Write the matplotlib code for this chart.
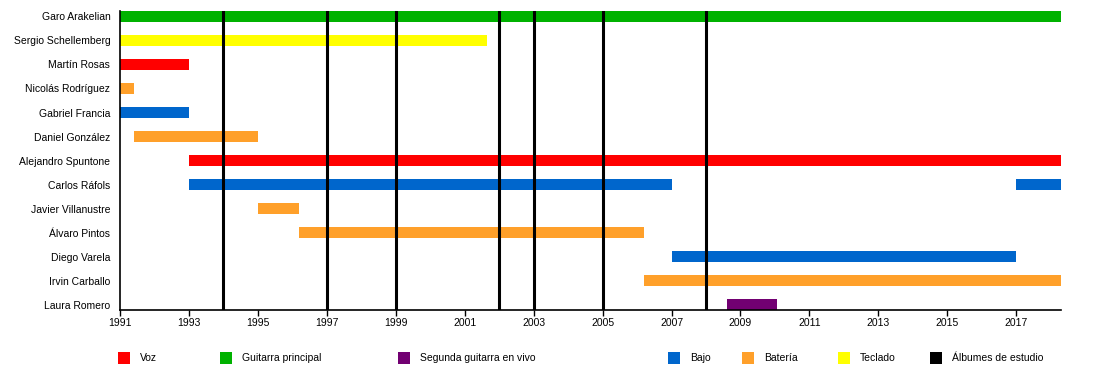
import matplotlib
matplotlib.use("Agg")
import matplotlib.pyplot as plt
from matplotlib.patches import Rectangle

plt.rcParams['font.family'] = ['Liberation Sans', 'DejaVu Sans']

# ---- data ----
members = ["Garo Arakelian", "Sergio Schellemberg", "Martín Rosas", "Nicolás Rodríguez",
           "Gabriel Francia", "Daniel González", "Alejandro Spuntone", "Carlos Ráfols",
           "Javier Villanustre", "Álvaro Pintos", "Diego Varela", "Irvin Carballo",
           "Laura Romero"]
# (member index, start, end, role)
periods = [
    (0, 1991.0, 2018.3, "Guitarra principal"),
    (1, 1991.0, 2001.65, "Teclado"),
    (2, 1991.0, 1993.0, "Voz"),
    (3, 1991.0, 1991.42, "Batería"),
    (4, 1991.0, 1993.0, "Bajo"),
    (5, 1991.4, 1995.0, "Batería"),
    (6, 1993.0, 2018.3, "Voz"),
    (7, 1993.0, 2007.0, "Bajo"),
    (7, 2017.0, 2018.3, "Bajo"),
    (8, 1995.0, 1996.2, "Batería"),
    (9, 1996.2, 2006.2, "Batería"),
    (10, 2007.0, 2017.0, "Bajo"),
    (11, 2006.2, 2018.3, "Batería"),
    (12, 2008.6, 2010.05, "Segunda guitarra en vivo"),
]
albums = [1994.0, 1997.0, 1999.0, 2002.0, 2003.0, 2005.0, 2008.0]
roles = ["Voz", "Guitarra principal", "Segunda guitarra en vivo", "Bajo",
         "Batería", "Teclado", "Álbumes de estudio"]
role_colors = ["#ff0000", "#00b200", "#720072", "#0066cc", "#ffa02a", "#ffff00", "#000000"]
tick_years = list(range(1991, 2018, 2))
x_start, x_end = 1991.0, 2018.3

color_of = dict(zip(roles, role_colors))

# ---- figure ----
W, H = 1100, 370
fig = plt.figure(figsize=(W / 100, H / 100), dpi=100)
ax_left, ax_right, ax_top, ax_bottom = 120, 1061, 10.5, 310
ax = fig.add_axes([ax_left / W, 1 - ax_bottom / H, (ax_right - ax_left) / W,
                   (ax_bottom - ax_top) / H])

n = len(members)
row_px = 24.05
bar_h = 10.7 / row_px
for idx, s, e, role in periods:
    ax.barh(idx, e - s, left=s, height=bar_h, color=color_of[role], linewidth=0, zorder=2)

for a in albums:
    ax.axvline(a, color="black", linewidth=2.2, zorder=3)

ax.set_xlim(x_start, x_end)
ax.set_ylim(n - 1 + 5.2 / row_px, -5.9 / row_px)
ax.set_yticks(range(n))
ax.set_yticklabels(members, fontsize=7.5)
ax.tick_params(axis="y", length=0, pad=7)
ax.set_xticks(tick_years)
ax.set_xticklabels([str(y) for y in tick_years], fontsize=7.5)
ax.tick_params(axis="x", length=4.3, width=1, pad=1.5)
for sp in ["top", "right"]:
    ax.spines[sp].set_visible(False)
for sp in ["left", "bottom"]:
    ax.spines[sp].set_linewidth(1.2)

# ---- legend ----
leg_x = [118, 220, 398, 668, 742, 838, 930]
leg_y = 358
sq = 12
for x, lab, c in zip(leg_x, roles, role_colors):
    fig.patches.append(Rectangle((x / W, 1 - (leg_y + sq / 2) / H), sq / W, sq / H,
                                 transform=fig.transFigure, facecolor=c, edgecolor="none"))
    fig.text((x + sq + 10) / W, 1 - leg_y / H, lab, fontsize=7.5, va="center", ha="left")

fig.savefig("out.png", dpi=100)
